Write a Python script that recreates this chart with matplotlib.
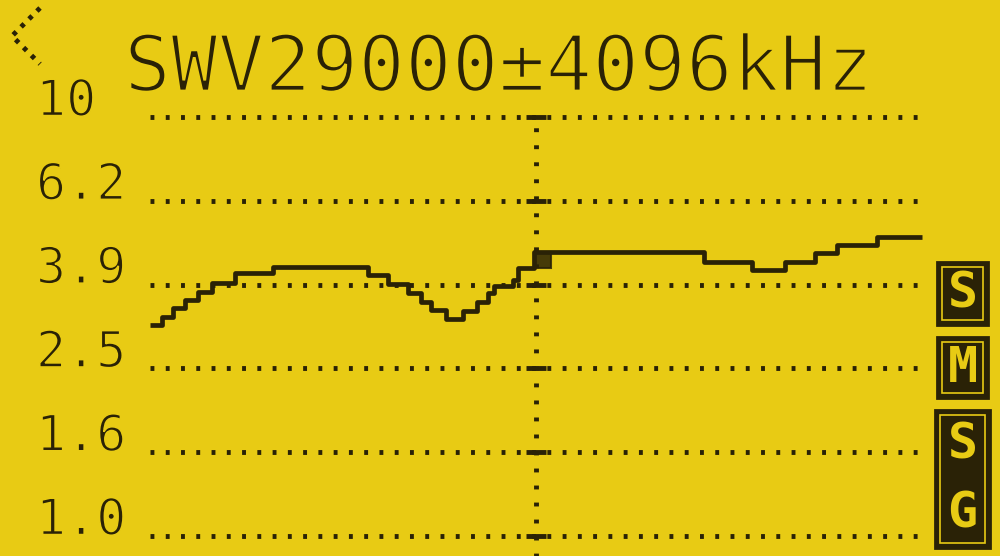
import matplotlib
matplotlib.use('Agg')
import matplotlib.pyplot as plt
import matplotlib.patheffects as pe
from matplotlib.patches import Rectangle
from matplotlib.lines import Line2D

# ---------------- data ----------------
title = "SWV29000±4096kHz"
center_khz = 29000
span_khz = 4096
ytick_values = [1.0, 10 ** 0.2, 10 ** 0.4, 10 ** 0.6, 10 ** 0.8, 10.0]
ytick_labels = ["1.0", "1.6", "2.5", "3.9", "6.2", "10"]
freq_khz = [24904, 25031, 25148, 25276, 25414, 25563, 25808, 26212, 27212,
            27425, 27638, 27776, 27883, 28042, 28223, 28370, 28489, 28553,
            28755, 28808, 28979, 30788, 31288, 31639, 31958, 32192, 32618,
            33096]
swr = [3.19, 3.33, 3.50, 3.66, 3.82, 4.02, 4.24, 4.39, 4.20,
       3.99, 3.80, 3.62, 3.46, 3.30, 3.44, 3.62, 3.80, 3.95,
       4.08, 4.36, 4.76, 4.51, 4.31, 4.51, 4.74, 4.95, 5.17,
       5.17]
mode_icons = [["S"], ["M"], ["S", "G"]]

BG = '#E8CB14'
INK = '#2A2206'
W, H = 1000, 556

thin = lambda lw: [pe.PathPatchEffect(edgecolor=BG, linewidth=lw, facecolor=INK)]

fig = plt.figure(figsize=(10, 5.56), dpi=100, facecolor=BG)
ax = fig.add_axes([150 / W, (H - 536) / H, 772 / W, (536 - 117) / H])
ax.set_facecolor(BG)
ax.set_xlim(center_khz - span_khz, center_khz + span_khz)
ax.set_yscale('log')
ax.set_ylim(1, 10)
ax.axis('off')

# dotted horizontal grid
for v in ytick_values:
    ax.axhline(v, color=INK, lw=3.5, linestyle=(0, (0.8, 2.34)),
               dash_capstyle='butt', clip_on=False)

# center vertical dotted line
ax.axvline(center_khz, ymin=-0.05, ymax=1.0, color=INK, lw=3.5,
           linestyle=(0, (0.8, 2.7)), dash_capstyle='butt', clip_on=False)
half = span_khz * 0.026
ax.hlines(ytick_values, center_khz - half, center_khz + half,
          color=INK, lw=3.5, clip_on=False)

# SWR curve
ax.step(freq_khz, swr, where='post', color=INK, lw=3.4, solid_capstyle='butt',
        clip_on=False)

# cursor marker box
i = freq_khz.index(min(freq_khz, key=lambda f: abs(f - center_khz)))
lo, hi = swr[i - 1], swr[i]
ax.add_patch(Rectangle((freq_khz[i], lo), span_khz * 0.044, hi - lo,
                       facecolor=INK, edgecolor=INK, lw=1.5, alpha=0.85))

# y labels
for v, lab in zip(ytick_values, ytick_labels):
    ax.annotate(lab, xy=(36 / W, v), xycoords=('figure fraction', 'data'),
                xytext=(0, 1), textcoords='offset points',
                fontsize=36, family='DejaVu Sans Mono', color=INK,
                va='baseline', ha='left', annotation_clip=False,
                path_effects=thin(1.2))

# title
fig.text(124 / W, 1 - 91 / H, title, fontsize=56, family='DejaVu Sans Mono',
         color=INK, va='baseline', ha='left', path_effects=thin(2.0))

# back arrow
fig.add_artist(Line2D([40 / W, 12 / W, 40 / W],
                      [1 - 8 / H, 1 - 36 / H, 1 - 64 / H],
                      transform=fig.transFigure, color=INK, lw=3.5,
                      linestyle=(0, (0.9, 1.4)), dash_capstyle='butt'))

# right-side mode icons
boxes = [(937, 262, 51, 63), (937, 337, 51, 61), (935, 410, 55, 138)]
for (x, y, w, h), glyphs in zip(boxes, mode_icons):
    fig.add_artist(Rectangle((x / W, 1 - (y + h) / H), w / W, h / H,
                             transform=fig.transFigure, facecolor=INK,
                             edgecolor=INK, lw=2))
    fig.add_artist(Rectangle(((x + 5) / W, 1 - (y + h - 5) / H), (w - 10) / W,
                             (h - 10) / H, transform=fig.transFigure,
                             facecolor='none', edgecolor=BG, lw=1.2))
    n = len(glyphs)
    for k, g in enumerate(glyphs):
        cy = y + h * (k + 0.5) / n
        fig.text((x + w / 2) / W, 1 - cy / H, g, fontsize=36,
                 family='DejaVu Sans Mono', fontweight='bold', color=BG,
                 ha='center', va='center')

fig.savefig('out.png', dpi=100, facecolor=BG)
